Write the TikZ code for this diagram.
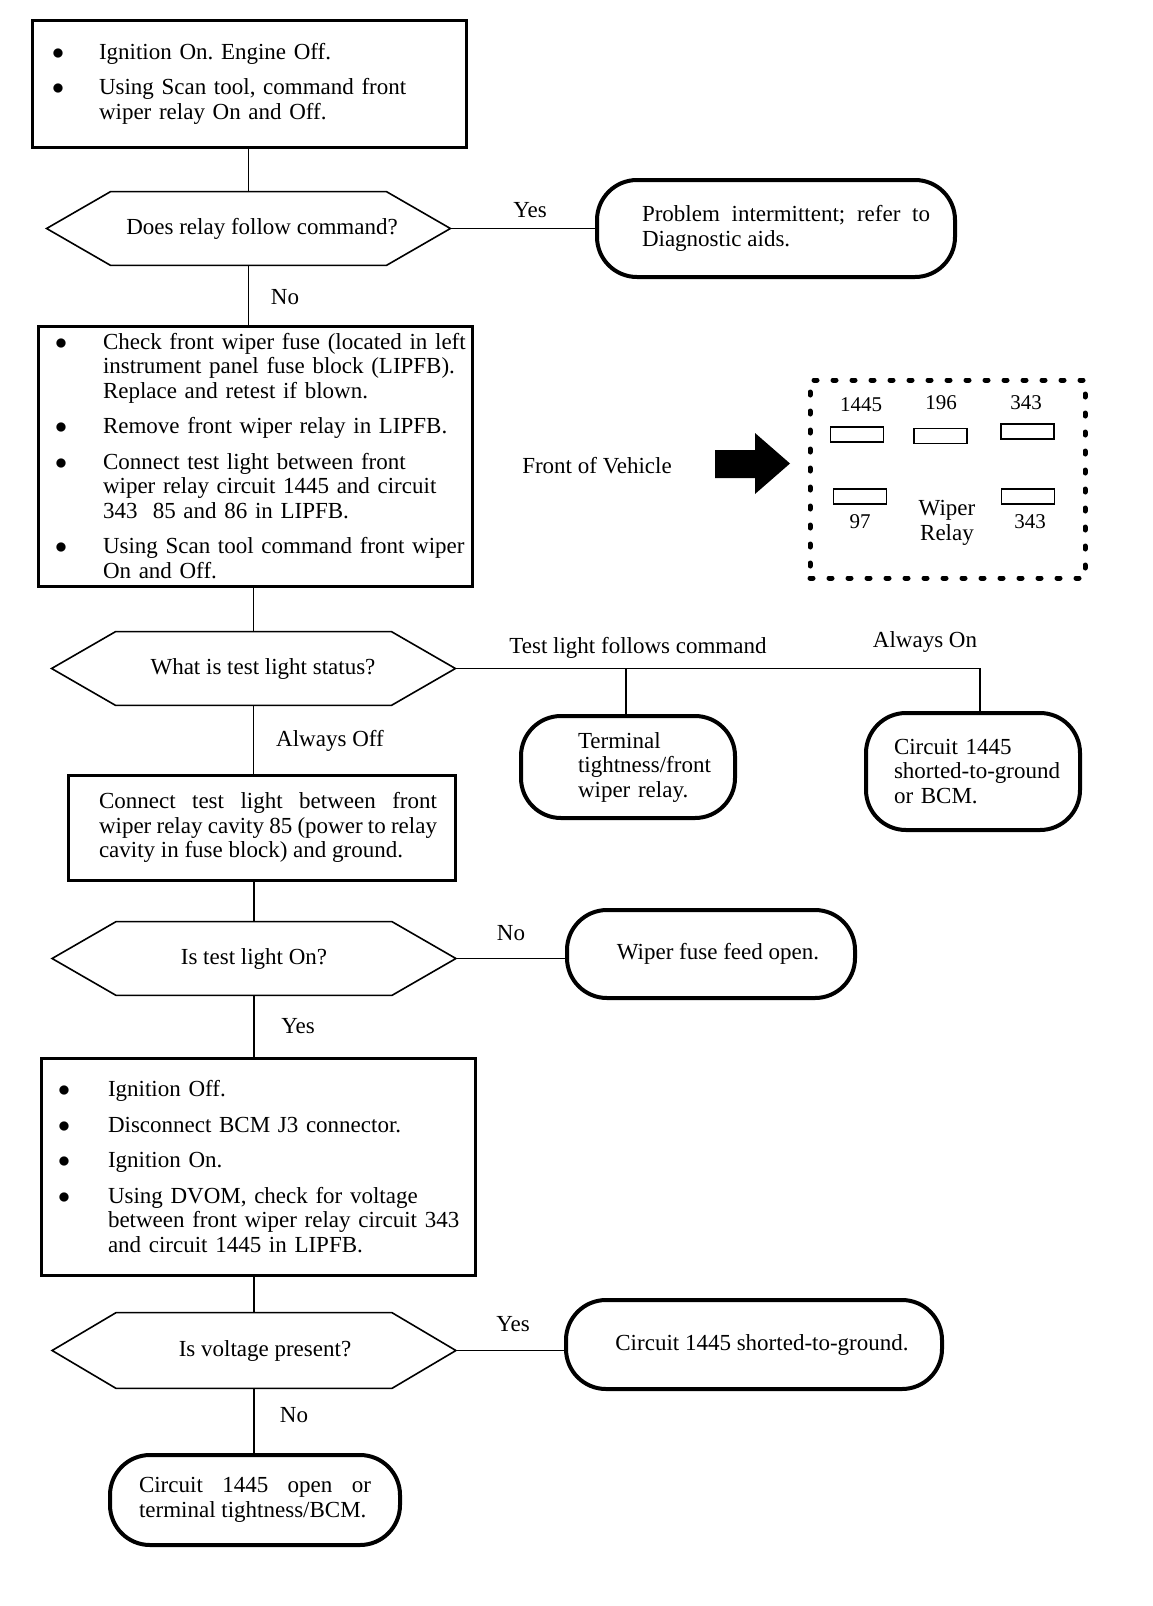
\documentclass[tikz,border=0pt]{standalone}
\usepackage{fontspec}
\setmainfont{Liberation Serif}
\newcommand{\bitem}[2]{\hangindent=#1\hangafter=1\noindent\makebox[#1][l]{$\bullet$}#2\par}
\newcommand{\bsep}{\vskip5.5pt}
\newcommand{\hexdraw}[1]{\draw[hexline] (#1.west) -- ([xshift=32pt]#1.north west) -- ([xshift=-32pt]#1.north east) -- (#1.east) -- ([xshift=-32pt]#1.south east) -- ([xshift=32pt]#1.south west) -- cycle;}
\tikzset{
  base/.style={font=\fontsize{11.5}{12.25}\selectfont\frenchspacing, inner sep=0pt},
  stepbox/.style={base, draw, line width=1.5pt, minimum width=217pt, text width=215pt, align=left},
  plainbox/.style={base, draw, line width=1.5pt},
  term/.style={base, draw, line width=2pt, rounded corners=20pt},
  hexnode/.style={base, minimum width=201.5pt, minimum height=36.5pt},
  hexline/.style={line width=0.8pt},
  conn/.style={line width=0.9pt},
  lbl/.style={base},
  pin/.style={draw, line width=0.6pt, minimum width=26.5pt, minimum height=7.5pt, inner sep=0pt},
  num/.style={font=\fontsize{10.5}{12}\selectfont, inner sep=0pt},
}
\begin{document}
\begin{tikzpicture}[x=0.5pt,y=-0.5pt]
\useasboundingbox (0,0) rectangle (1152,1606);

% ---- boxes
\node[stepbox, minimum height=63.5pt] (b1) at (249,83.5)
 {\leftskip=9pt
  \bitem{23.5pt}{Ignition On. Engine Off.}\bsep
  \bitem{23.5pt}{Using Scan tool, command front\newline wiper relay On and Off.}};

\node[stepbox, minimum height=130pt] (b2) at (255,456)
 {\leftskip=7.5pt
  \bitem{24pt}{Check front wiper fuse (located in left\newline instrument panel fuse block (LIPFB).\newline Replace and retest if blown.}\bsep
  \bitem{24pt}{Remove front wiper relay in LIPFB.}\bsep
  \bitem{24pt}{Connect test light between front\newline wiper relay circuit 1445 and circuit\newline 343\ \ 85 and 86 in LIPFB.}\bsep
  \bitem{24pt}{Using Scan tool command front wiper\newline On and Off.}};

\node[plainbox, minimum width=193.5pt, minimum height=52.5pt, text width=175.5pt, align=justify] (b3) at (261.5,827.5)
 {\leftskip=6.5pt Connect test light between front\linebreak wiper relay cavity 85 (power to relay\linebreak cavity in fuse block) and ground.\par};

\node[stepbox, minimum height=108.5pt] (b4) at (258,1166.5)
 {\leftskip=7.5pt
  \bitem{25pt}{Ignition Off.}\bsep
  \bitem{25pt}{Disconnect BCM J3 connector.}\bsep
  \bitem{25pt}{Ignition On.}\bsep
  \bitem{25pt}{Using DVOM, check for voltage\newline between front wiper relay circuit 343\newline and circuit 1445 in LIPFB.}};

% ---- decisions
\node[hexnode] (h1) at (248.5,228.5) {\hspace*{13.5pt}Does relay follow command?};
\hexdraw{h1}
\node[hexnode] (h2) at (253.5,668.5) {\hspace*{9.5pt}What is test light status?};
\hexdraw{h2}
\node[hexnode] (h3) at (254,958.5) {Is test light On?};
\hexdraw{h3}
\node[hexnode, minimum height=37.5pt] (h4) at (254,1350.5) {\hspace*{11pt}Is voltage present?};
\hexdraw{h4}

% ---- terminals
\node[term, minimum width=179pt, minimum height=48.5pt, text width=154pt, align=justify] (t1) at (776,228.5)
 {\leftskip=10pt Problem intermittent; refer to\linebreak Diagnostic aids.\par};
\node[term, minimum width=107pt, minimum height=51pt, text width=100pt, align=left] (t2) at (628,767)
 {\leftskip=25pt Terminal\newline tightness/front\newline wiper relay.\par};
\node[term, minimum width=107pt, minimum height=58.5pt, text width=100pt, align=left] (t3) at (973,771.5)
 {\leftskip=10.5pt Circuit 1445\newline shorted-to-ground\newline or BCM.\par};
\node[term, minimum width=144pt, minimum height=44pt] (tw) at (711,954)
 {\hspace*{7pt}Wiper fuse feed open.};
\node[term, minimum width=188pt, minimum height=44.5pt] (ts) at (754,1344.5)
 {\hspace*{8pt}Circuit 1445 shorted-to-ground.};
\node[term, minimum width=145pt, minimum height=45pt, text width=116pt, align=justify] (tf) at (255,1500)
 {Circuit 1445 open or\linebreak terminal tightness/BCM.\par};

% ---- connectors
\draw[conn] (h1.north) -- (h1.north |- b1.south);
\draw[conn] (h1.east) -- (t1.west);
\draw[conn] (h1.south) -- (h1.south |- b2.north);
\draw[conn] (h2.north) -- (h2.north |- b2.south);
\coordinate (c2) at (626,668.5);
\coordinate (c3) at (980,668.5);
\draw[conn] (h2.east) -- (c3) -- (c3 |- t3.north);
\draw[conn] (c2) -- (c2 |- t2.north);
\draw[conn] (h2.south) -- (h2.south |- b3.north);
\draw[conn] (h3.north) -- (h3.north |- b3.south);
\draw[conn] (h3.east) -- (h3.east -| tw.west);
\draw[conn] (h3.south) -- (h3.south |- b4.north);
\draw[conn] (h4.north) -- (h4.north |- b4.south);
\draw[conn] (h4.east) -- (h4.east -| ts.west);
\draw[conn] (h4.south) -- (h4.south |- tf.north);

% ---- labels
\node[lbl] (l1) at (530,210) {Yes};
\node[lbl] (l2) at (285,297) {No};
\node[lbl] (l3) at (638,648) {Test light follows command};
\node[lbl] (l4) at (925,642) {Always On};
\node[lbl] (l5) at (330,741) {Always Off};
\node[lbl] (l6) at (511,933) {No};
\node[lbl] (l7) at (298,1026) {Yes};
\node[lbl] (l8) at (513,1324) {Yes};
\node[lbl] (l9) at (294,1415) {No};

% ---- relay diagram
\node[lbl] (fov) at (597,466) {Front of Vehicle};
\fill (715,450) -- (755,450) -- (755,433) -- (790,463.5) -- (755,494) -- (755,478) -- (715,478) -- cycle;
\node[draw, line width=2.5pt, dash pattern=on 1.5pt off 8pt, line cap=round, minimum width=137.5pt, minimum height=99pt, inner sep=0pt] (relay) at (947.5,479) {};
\node[pin] (p1) at (857,434.5) {};
\node[pin] (p2) at (940.5,436) {};
\node[pin] (p3) at (1027.5,431.5) {};
\node[pin] (p4) at (860,496.5) {};
\node[pin] (p5) at (1028,496.5) {};
\node[num] (n1) at (861,405) {1445};
\node[num] (n2) at (941,403) {196};
\node[num] (n3) at (1026,403) {343};
\node[num] (n4) at (860,522) {97};
\node[num] (n5) at (1030,522) {343};
\node[base, align=center] (wr) at (947,523) {Wiper\\Relay};
\end{tikzpicture}
\end{document}
